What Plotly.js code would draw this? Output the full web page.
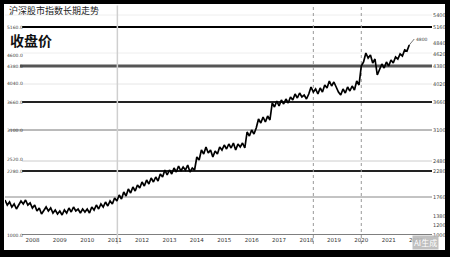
<!DOCTYPE html>
<html><head><meta charset="utf-8">
<script src="https://cdn.plot.ly/plotly-3.0.1.min.js"></script>
<style>
html,body{margin:0;padding:0;background:#000;}
#frame{position:absolute;left:0;top:0;width:450px;height:257px;background:#000;}
#chart{position:absolute;left:4px;top:4px;width:441px;height:246px;background:#fff;}
</style></head>
<body><div id="frame"><div id="chart"></div></div>
<script>
// Monthly index values, Jan 2007 onward
const startYear = 2007;
const closeValues = [
 1700,1600,1660,1560,1620,1520,1600,1680,1620,1700,1600,1640,
 1540,1600,1480,1540,1420,1500,1560,1480,1540,1440,1500,1420,
 1480,1400,1500,1440,1540,1460,1560,1480,1520,1440,1520,1460,
 1520,1440,1560,1500,1600,1520,1620,1560,1660,1580,1680,1620,
 1740,1680,1800,1720,1860,1780,1920,1840,1960,1880,2000,1940,
 2060,1980,2100,2020,2140,2060,2160,2080,2220,2160,2300,2200,
 2300,2220,2340,2260,2380,2280,2360,2300,2400,2260,2340,2300,
 2560,2500,2700,2620,2760,2640,2700,2560,2680,2620,2760,2700,
 2800,2720,2820,2740,2840,2700,2820,2760,2840,2740,3060,2980,
 3100,3020,3140,3320,3240,3360,3260,3380,3300,3640,3560,3680,
 3580,3700,3620,3720,3640,3760,3700,3820,3740,3840,3760,3800,
 3720,3820,3960,3860,3920,3820,3940,3860,4000,3940,4080,3980,
 4060,3960,3860,3800,3920,3840,3960,3880,3980,3900,4080,4000,
 4380,4460,4640,4540,4600,4440,4520,4200,4320,4420,4340,4460,
 4380,4500,4440,4560,4520,4620,4580,4700,4680,4800
];
const xTickVals = [2008,2009,2010,2011,2012,2013,2014,2015,2016,2017,2018,2019,2020,2021,2022];
const xTickText = ["2008","2009","2010","2011","2012","2013","2014","2015","2016","2017","2018","2019","2020","2021","2022"];
const rightTickVals = [5400,5160,4840,4620,4380,4020,3660,3100,2480,2280,1760,1380,1200,1000];
const leftLabelVals = [5160,4600,4380,4040,3660,3100,2520,2280,1000];
const titleText = "沪深股市指数长期走势";
const bigLabel = "收盘价";
const lastLabel = "4800";

const xs = closeValues.map((v,i)=>startYear + i/12);

const hLines = [
 {v:5400,c:'#eeeeee',w:1,x0:0.0},
 {v:5160,c:'#000000',w:2,x0:0.04},
 {v:4640,c:'#eeeeee',w:1,x0:0.04},
 {v:4380,c:'#555555',w:3,x0:0.035},
 {v:4020,c:'#e6e6e6',w:1,x0:0.04},
 {v:3660,c:'#222222',w:2,x0:0.04},
 {v:3100,c:'#777777',w:1,x0:0.01},
 {v:2480,c:'#cccccc',w:1,x0:0.04},
 {v:2280,c:'#222222',w:2,x0:0.04},
 {v:1760,c:'#888888',w:1,x0:0.0},
 {v:1000,c:'#555555',w:1.5,x0:0.04}
];
const shapes = hLines.map(h=>({type:'line',xref:'paper',yref:'y',x0:h.x0,x1:1,y0:h.v,y1:h.v,line:{color:h.c,width:h.w},layer:'below'}));
shapes.push({type:'line',xref:'x',yref:'paper',x0:2011.1,x1:2011.1,y0:-0.04,y1:1.02,line:{color:'#cfcfcf',width:1.5},layer:'below'});
shapes.push({type:'line',xref:'x',yref:'paper',x0:2018.25,x1:2018.25,y0:-0.04,y1:1.02,line:{color:'#999999',width:1,dash:'dot'},layer:'below'});
shapes.push({type:'line',xref:'x',yref:'paper',x0:2020.0,x1:2020.0,y0:-0.04,y1:1.02,line:{color:'#999999',width:1,dash:'dot'},layer:'below'});

const annotations = [
 {xref:'paper',yref:'paper',x:0.005,y:1.0,xanchor:'left',yanchor:'middle',text:titleText,showarrow:false,font:{size:9,color:'#222',family:'Noto Sans CJK SC'}},
 {xref:'paper',yref:'paper',x:0.008,y:0.866,xanchor:'left',yanchor:'middle',text:'<b>'+bigLabel+'</b>',showarrow:false,font:{size:14,color:'#111',family:'Noto Sans CJK SC'}},
 {xref:'x',yref:'y',x:xs[xs.length-1],y:closeValues[closeValues.length-1],text:lastLabel,showarrow:true,arrowhead:0,arrowwidth:0.8,arrowcolor:'#555',ax:5,ay:-6,xanchor:'left',font:{size:4.5,color:'#444',family:'DejaVu Sans'}},
 {xref:'paper',yref:'paper',x:0.984,y:-0.035,xanchor:'center',yanchor:'middle',text:'AI生成',showarrow:false,bgcolor:'rgba(185,185,185,0.9)',borderpad:1,font:{size:8,color:'#fff',family:'Noto Sans CJK SC'}}
];
leftLabelVals.forEach(v=>annotations.push({xref:'paper',yref:'y',x:0.0,y:v,xanchor:'left',yanchor:'middle',text:v.toFixed(1),showarrow:false,font:{size:4.5,color:'#444',family:'DejaVu Sans'}}));

Plotly.newPlot('chart',[{
  x:xs,y:closeValues,type:'scatter',mode:'lines',line:{color:'#000',width:1.7},hoverinfo:'skip'
}],{
  width:441,height:246,
  margin:{l:1,r:13,t:6,b:15},
  paper_bgcolor:'#fff',plot_bgcolor:'#fff',
  showlegend:false,
  xaxis:{range:[2007,2022.58],tickvals:xTickVals,ticktext:xTickText,showgrid:false,zeroline:false,showline:false,ticks:'',tickfont:{size:5.5,color:'#333',family:'DejaVu Sans'}},
  yaxis:{range:[1000,5500],side:'right',tickvals:rightTickVals,ticktext:rightTickVals.map(String),showgrid:false,zeroline:false,showline:false,ticks:'',tickfont:{size:5,color:'#444',family:'DejaVu Sans'}},
  shapes:shapes,annotations:annotations
},{displayModeBar:false,staticPlot:true});
</script></body></html>
